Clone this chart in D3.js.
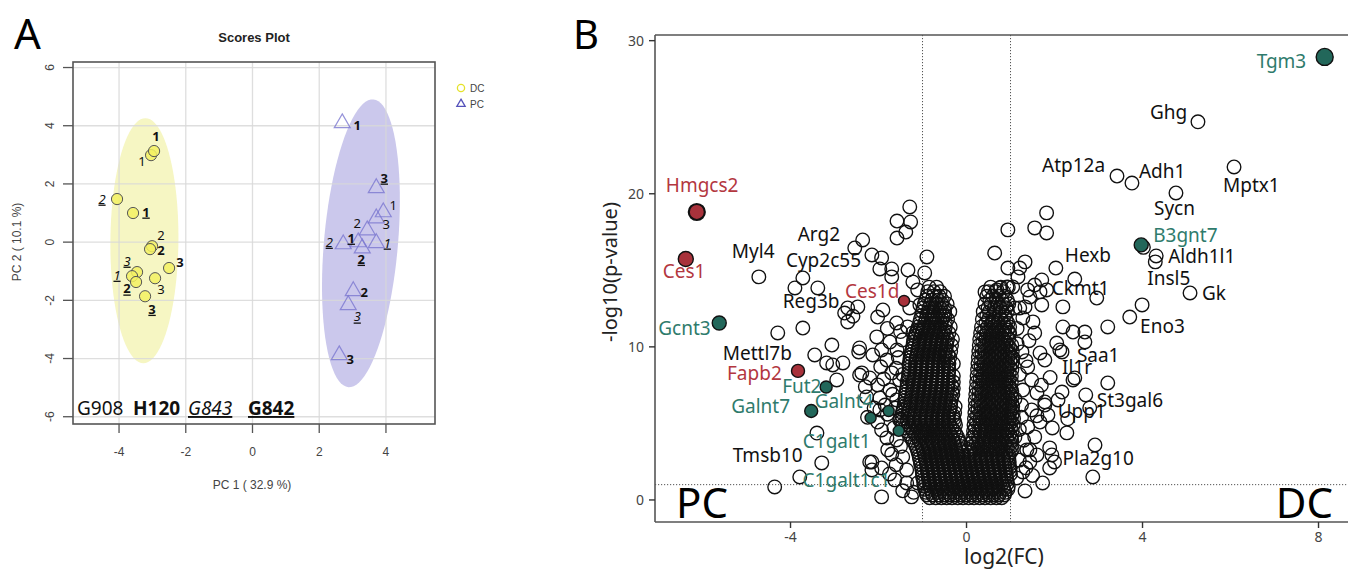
<!DOCTYPE html>
<html>
<head>
<meta charset="utf-8">
<script src="https://cdn.jsdelivr.net/npm/d3@7"></script>
<style>
  body { margin: 0; background: #fff; }
  svg { display: block; }
</style>
</head>
<body>
<svg id="fig" width="1348" height="569"></svg>
<script>
// ---------- panel A: PCA scores ----------
const pcaSamples = ["G908", "H120", "G843", "G842"];
// [PC1, PC2, sample index, replicate]
const dcScores = [
  [-3.04, 2.99, 0, 1], [-2.95, 3.13, 1, 1], [-4.06, 1.48, 2, 2], [-3.58, 1.0, 3, 1],
  [-3.01, -0.14, 0, 2], [-3.07, -0.24, 1, 2], [-2.5, -0.89, 1, 3], [-3.46, -1.03, 2, 3],
  [-3.61, -1.17, 2, 1], [-3.49, -1.37, 3, 2], [-2.92, -1.24, 0, 3], [-3.22, -1.86, 3, 3],
];
const pcScores = [
  [2.69, 4.09, 1, 1], [3.71, 1.86, 3, 3], [3.92, 1.03, 0, 1], [3.71, 0.82, 0, 3],
  [3.44, 0.41, 0, 2], [2.72, -0.07, 2, 2], [3.17, 0.0, 3, 1], [3.71, -0.03, 2, 1],
  [3.29, -0.21, 3, 2], [3.02, -1.68, 1, 2], [2.87, -2.16, 2, 3], [2.6, -3.88, 1, 3],
];
// 95% ellipses: centre, major semi-axis vector, minor semi-axis vector
const dcEllipse = { c: [-3.24, 0.05], u: [0.03, 4.21], v: [1.02, 0] };
const pcEllipse = { c: [3.25, -0.04], u: [0.375, 4.945], v: [1.105, -0.11] };
const pcaXTicks = [-4, -2, 0, 2, 4];
const pcaYTicks = [-6, -4, -2, 0, 2, 4, 6];

// ---------- panel B: volcano ----------
const volXTicks = [-4, 0, 4, 8];
const volYTicks = [0, 10, 20, 30];
const fcCut = [-1, 1];
const pCut = 1;

// dense core, one row per -log10(p) level: [y, [log2FC ...]]
const coreRows = [
  [0.15, [-0.84, -0.7, -0.57, -0.45, -0.33, -0.2, -0.08, 0.05, 0.17, 0.3, 0.42, 0.55, 0.68, 0.8]],
  [0.33, [-0.9, -0.77, -0.63, -0.5, -0.38, -0.26, -0.13, -0.01, 0.12, 0.24, 0.37, 0.5, 0.62, 0.74, 0.86]],
  [0.5, [-0.92, -0.79, -0.66, -0.52, -0.4, -0.27, -0.14, -0.02, 0.11, 0.24, 0.36, 0.49, 0.62, 0.75, 0.88]],
  [0.7, [-0.95, -0.82, -0.69, -0.55, -0.43, -0.3, -0.17, -0.05, 0.08, 0.21, 0.33, 0.46, 0.59, 0.72, 0.85, 0.94]],
  [0.9, [-0.96, -0.83, -0.7, -0.58, -0.44, -0.31, -0.19, -0.06, 0.07, 0.2, 0.33, 0.45, 0.58, 0.71, 0.84, 0.95]],
  [1.1, [-0.97, -0.84, -0.71, -0.58, -0.46, -0.33, -0.2, -0.08, 0.05, 0.18, 0.31, 0.44, 0.56, 0.69, 0.82, 0.93]],
  [1.3, [-0.98, -0.86, -0.72, -0.6, -0.47, -0.35, -0.22, -0.1, 0.03, 0.15, 0.28, 0.41, 0.54, 0.66, 0.79, 0.92]],
  [1.5, [-1.0, -0.87, -0.74, -0.61, -0.48, -0.36, -0.24, -0.11, 0.02, 0.14, 0.27, 0.4, 0.53, 0.66, 0.78, 0.91]],
  [1.7, [-1.0, -0.88, -0.75, -0.62, -0.5, -0.37, -0.25, -0.12, 0.0, 0.13, 0.26, 0.38, 0.51, 0.64, 0.77, 0.9, 1.0]],
  [1.9, [-1.01, -0.89, -0.76, -0.63, -0.51, -0.38, -0.26, -0.14, -0.01, 0.12, 0.25, 0.37, 0.5, 0.63, 0.76, 0.89, 0.99]],
  [2.1, [-1.02, -0.9, -0.77, -0.64, -0.52, -0.39, -0.27, -0.15, -0.03, 0.1, 0.23, 0.36, 0.49, 0.62, 0.75, 0.88, 0.98]],
  [2.3, [-1.04, -0.91, -0.78, -0.66, -0.53, -0.41, -0.28, -0.16, -0.04, 0.09, 0.22, 0.35, 0.48, 0.61, 0.74, 0.87, 0.97]],
  [2.5, [-1.05, -0.92, -0.8, -0.67, -0.54, -0.42, -0.3, -0.18, -0.06, 0.07, 0.2, 0.33, 0.46, 0.59, 0.72, 0.85, 0.97]],
  [2.7, [-1.07, -0.94, -0.81, -0.69, -0.56, -0.44, -0.31, -0.19, -0.07, 0.06, 0.19, 0.32, 0.45, 0.58, 0.71, 0.84, 0.96]],
  [2.9, [-1.08, -0.95, -0.82, -0.7, -0.57, -0.45, -0.33, -0.21, -0.09, 0.05, 0.18, 0.31, 0.44, 0.57, 0.7, 0.83, 0.96]],
  [3.1, [-1.1, -0.97, -0.84, -0.71, -0.59, -0.46, -0.34, -0.22, -0.1, 0.1, 0.23, 0.37, 0.5, 0.63, 0.76, 0.89, 1.0]],
  [3.3, [-1.12, -0.99, -0.86, -0.73, -0.6, -0.48, -0.36, -0.24, -0.12, 0.04, 0.17, 0.3, 0.43, 0.56, 0.69, 0.82, 0.95, 1.04]],
  [3.5, [-1.15, -1.02, -0.88, -0.75, -0.62, -0.5, -0.37, -0.25, -0.13, 0.13, 0.26, 0.39, 0.52, 0.65, 0.78, 0.91, 1.02]],
  [3.7, [-1.18, -1.04, -0.9, -0.77, -0.64, -0.51, -0.39, -0.27, -0.14, 0.1, 0.22, 0.35, 0.48, 0.61, 0.74, 0.87, 1.0]],
  [3.9, [-1.22, -1.08, -0.94, -0.81, -0.68, -0.55, -0.42, -0.3, -0.18, 0.15, 0.28, 0.41, 0.54, 0.67, 0.8, 0.93, 1.03]],
  [4.1, [-1.25, -1.11, -0.98, -0.85, -0.72, -0.59, -0.46, -0.33, -0.2, 0.14, 0.27, 0.4, 0.53, 0.66, 0.79, 0.92, 1.02]],
  [4.3, [-1.3, -1.16, -1.03, -0.9, -0.76, -0.63, -0.5, -0.37, -0.24, 0.19, 0.33, 0.46, 0.6, 0.73, 0.86, 0.98]],
  [4.5, [-1.35, -1.21, -1.07, -0.94, -0.8, -0.67, -0.54, -0.41, -0.28, 0.16, 0.29, 0.42, 0.55, 0.68, 0.81, 0.94, 1.04]],
  [4.7, [-1.4, -1.26, -1.12, -0.99, -0.85, -0.72, -0.59, -0.46, -0.33, 0.2, 0.35, 0.49, 0.62, 0.76, 0.89, 1.0]],
  [4.9, [-1.45, -1.31, -1.17, -1.03, -0.9, -0.76, -0.63, -0.5, -0.37, -0.25, 0.17, 0.3, 0.43, 0.56, 0.7, 0.83, 0.96, 1.06]],
  [5.1, [-1.48, -1.34, -1.2, -1.06, -0.93, -0.79, -0.66, -0.53, -0.4, -0.27, 0.23, 0.37, 0.51, 0.64, 0.78, 0.91, 1.02]],
  [5.3, [-1.5, -1.36, -1.22, -1.08, -0.95, -0.81, -0.68, -0.55, -0.42, -0.29, 0.18, 0.31, 0.45, 0.58, 0.71, 0.84, 0.97, 1.07]],
  [5.5, [-1.47, -1.33, -1.2, -1.06, -0.93, -0.8, -0.66, -0.54, -0.41, -0.3, 0.25, 0.39, 0.52, 0.66, 0.79, 0.92, 1.03]],
  [5.7, [-1.46, -1.32, -1.18, -1.05, -0.92, -0.78, -0.65, -0.52, -0.39, -0.27, 0.19, 0.32, 0.46, 0.59, 0.72, 0.85, 0.98, 1.06]],
  [5.9, [-1.44, -1.3, -1.17, -1.03, -0.9, -0.77, -0.64, -0.51, -0.38, 0.26, 0.4, 0.53, 0.67, 0.8, 0.93, 1.03]],
  [6.1, [-1.42, -1.28, -1.15, -1.02, -0.88, -0.75, -0.62, -0.49, -0.36, -0.26, 0.2, 0.33, 0.47, 0.6, 0.73, 0.86, 0.98, 1.05]],
  [6.3, [-1.41, -1.27, -1.14, -1.01, -0.87, -0.74, -0.61, -0.48, -0.36, 0.27, 0.41, 0.55, 0.68, 0.81, 0.93, 1.03]],
  [6.5, [-1.4, -1.26, -1.13, -1.0, -0.86, -0.73, -0.6, -0.47, -0.35, 0.2, 0.34, 0.48, 0.61, 0.74, 0.87, 0.99]],
  [6.7, [-1.39, -1.25, -1.12, -0.98, -0.85, -0.72, -0.59, -0.46, -0.34, 0.28, 0.42, 0.56, 0.69, 0.82, 0.94, 1.03]],
  [6.9, [-1.38, -1.24, -1.1, -0.97, -0.84, -0.7, -0.57, -0.44, -0.31, 0.21, 0.35, 0.49, 0.62, 0.75, 0.88, 1.0]],
  [7.1, [-1.37, -1.23, -1.09, -0.96, -0.83, -0.69, -0.56, -0.44, -0.33, 0.29, 0.43, 0.57, 0.7, 0.83, 0.95, 1.03]],
  [7.3, [-1.36, -1.22, -1.08, -0.95, -0.82, -0.68, -0.55, -0.42, -0.3, 0.22, 0.36, 0.5, 0.63, 0.76, 0.89, 1.01]],
  [7.5, [-1.35, -1.21, -1.08, -0.95, -0.81, -0.68, -0.55, -0.43, -0.34, 0.3, 0.44, 0.57, 0.7, 0.84, 0.96]],
  [7.7, [-1.35, -1.21, -1.07, -0.94, -0.8, -0.67, -0.54, -0.41, -0.3, 0.23, 0.37, 0.5, 0.64, 0.77, 0.9, 1.02]],
  [7.9, [-1.33, -1.2, -1.06, -0.93, -0.8, -0.67, -0.54, -0.42, 0.31, 0.45, 0.58, 0.71, 0.85, 0.97]],
  [8.1, [-1.32, -1.18, -1.05, -0.92, -0.79, -0.66, -0.53, -0.41, -0.3, 0.24, 0.38, 0.52, 0.65, 0.78, 0.91, 1.02]],
  [8.3, [-1.31, -1.17, -1.04, -0.91, -0.78, -0.65, -0.53, -0.41, 0.32, 0.46, 0.59, 0.72, 0.85, 0.97]],
  [8.5, [-1.3, -1.16, -1.03, -0.9, -0.77, -0.64, -0.52, -0.4, 0.25, 0.39, 0.53, 0.66, 0.79, 0.92, 1.03]],
  [8.7, [-1.3, -1.16, -1.03, -0.9, -0.77, -0.64, -0.52, -0.42, 0.33, 0.47, 0.6, 0.73, 0.86, 0.98]],
  [8.9, [-1.3, -1.16, -1.03, -0.9, -0.77, -0.64, -0.52, -0.4, -0.3, 0.26, 0.4, 0.54, 0.67, 0.8, 0.93, 1.03]],
  [9.1, [-1.29, -1.15, -1.02, -0.89, -0.76, -0.63, -0.51, -0.42, 0.34, 0.48, 0.61, 0.74, 0.87, 0.99]],
  [9.3, [-1.28, -1.14, -1.01, -0.88, -0.75, -0.62, -0.5, -0.38, 0.27, 0.41, 0.55, 0.68, 0.81, 0.94, 1.04]],
  [9.5, [-1.26, -1.12, -0.99, -0.86, -0.73, -0.61, -0.49, -0.42, 0.35, 0.49, 0.62, 0.75, 0.88, 0.99]],
  [9.7, [-1.25, -1.11, -0.98, -0.85, -0.72, -0.6, -0.48, -0.36, 0.28, 0.42, 0.56, 0.69, 0.82, 0.95, 1.04]],
  [9.9, [-1.23, -1.1, -0.96, -0.83, -0.7, -0.58, -0.47, 0.36, 0.5, 0.63, 0.76, 0.89, 0.99]],
  [10.1, [-1.22, -1.08, -0.95, -0.82, -0.69, -0.57, -0.45, -0.34, 0.29, 0.43, 0.57, 0.7, 0.83, 0.95, 1.03]],
  [10.3, [-1.21, -1.07, -0.94, -0.81, -0.68, -0.56, -0.45, 0.37, 0.51, 0.64, 0.77, 0.9]],
  [10.5, [-1.2, -1.06, -0.93, -0.8, -0.67, -0.55, -0.43, -0.32, 0.3, 0.44, 0.58, 0.71, 0.84, 0.96]],
  [10.7, [-1.17, -1.04, -0.91, -0.78, -0.66, -0.54, -0.46, 0.39, 0.53, 0.66, 0.79, 0.91]],
  [10.9, [-1.15, -1.02, -0.89, -0.76, -0.64, -0.52, -0.4, 0.32, 0.46, 0.6, 0.73, 0.86, 0.97]],
  [11.1, [-1.12, -0.99, -0.87, -0.74, -0.62, -0.5, 0.41, 0.55, 0.68, 0.81, 0.93]],
  [11.3, [-1.1, -0.97, -0.85, -0.72, -0.6, -0.48, -0.37, 0.34, 0.48, 0.62, 0.75, 0.88, 0.98]],
  [11.55, [-1.07, -0.95, -0.82, -0.7, -0.58, -0.48, 0.44, 0.57, 0.71, 0.84, 0.94]],
  [11.8, [-1.05, -0.92, -0.8, -0.67, -0.55, -0.43, 0.36, 0.5, 0.64, 0.78, 0.9]],
  [12.05, [-1.02, -0.9, -0.77, -0.65, -0.53, 0.46, 0.6, 0.74, 0.87]],
  [12.3, [-1.0, -0.87, -0.75, -0.62, -0.5, -0.38, 0.38, 0.52, 0.66, 0.8, 0.93]],
  [12.55, [-0.98, -0.85, -0.72, -0.6, -0.5, 0.49, 0.63, 0.77, 0.9]],
  [12.8, [-0.96, -0.82, -0.69, -0.56, -0.44, 0.42, 0.56, 0.7, 0.84, 0.96]],
  [13.05, [-0.93, -0.79, -0.66, -0.55, 0.53, 0.67, 0.81, 0.93]],
  [13.3, [-0.9, -0.76, -0.62, -0.5, 0.46, 0.6, 0.74, 0.88]],
  [13.6, [-0.88, -0.74, -0.6, 0.5, 0.66, 0.84]],
  [13.9, [-0.85, -0.68, 0.55, 0.78, 0.95]],
];

// scattered genes outside the core: [log2FC, -log10(p)]
const sparseGenes = [
  [-1.29, 19.14], [-1.58, 18.22], [-1.27, 18.16], [-1.38, 17.5], [-1.58, 17.11], [-2.54, 16.46],
  [-1.93, 15.81], [-1.97, 15.09], [-1.7, 15.09], [-1.33, 15.02], [-0.9, 15.87], [-0.95, 14.83],
  [-1.7, 14.57], [-3.72, 14.5], [-3.38, 13.85], [-3.9, 13.85], [-1.22, 14.24], [-1.11, 13.72],
  [-0.68, 13.26], [-2.47, 12.61], [-2.7, 11.63], [-2.77, 12.21], [-2.58, 12.0], [-1.9, 12.41],
  [-2.02, 11.95], [-1.29, 12.54], [-1.06, 12.74], [-0.84, 12.28], [-1.59, 11.56], [-1.34, 11.3],
  [-1.06, 11.1], [-0.72, 11.89], [-0.49, 12.08], [-2.04, 10.65], [-1.74, 10.32], [-1.45, 10.45],
  [-1.22, 10.91], [-2.43, 9.93], [-3.72, 11.23], [-3.45, 9.47], [-3.18, 8.95], [-2.95, 7.84],
  [-2.43, 8.16], [-3.06, 10.12], [-2.45, 9.67], [-2.13, 9.47], [-3.04, 8.82], [-2.81, 8.95],
  [-2.38, 8.3], [-2.2, 7.97], [-2.27, 6.73], [-2.02, 7.51], [-1.97, 6.66], [-1.97, 5.88],
  [-2.02, 5.09], [-1.93, 4.57], [-1.81, 4.05], [-1.79, 3.27], [-2.15, 2.48], [-1.93, 2.09],
  [-1.63, 1.31], [-1.36, 1.11], [-1.11, 1.11], [-1.93, 0.2], [-1.81, 9.14], [-1.93, 9.8],
  [-1.58, 9.8], [-1.7, 8.3], [-1.52, 7.84], [-1.74, 7.18], [-1.59, 6.53], [-1.52, 5.23],
  [-1.59, 3.92], [-1.45, 2.81], [-1.36, 1.96], [-3.4, 4.37], [-3.79, 1.5], [-4.36, 0.85],
  [-2.2, 2.48], [-2.15, 1.96], [-1.65, 4.7], [-1.8, 5.6], [-1.62, 6.0], [-1.85, 6.2],
  [-1.68, 6.9], [-1.88, 7.9], [-1.6, 8.6], [-1.45, 8.2], [-1.55, 9.3], [-1.5, 11.0],
  [-1.8, 11.2], [-1.95, 8.7], [-2.3, 7.4], [-2.1, 6.0], [-2.25, 5.4], [-1.7, 3.0], [-1.6, 2.3],
  [-1.5, 3.5], [-1.75, 1.7], [-1.45, 0.6], [-1.2, 0.5], [-1.25, 0.2],
  [1.82, 18.75], [1.55, 17.77], [1.82, 17.44], [0.94, 17.64], [0.64, 16.13], [1.33, 15.55],
  [0.94, 15.15], [1.21, 15.15], [2.46, 14.43], [2.19, 12.61], [0.42, 13.59], [0.69, 13.72],
  [1.71, 14.37], [1.55, 14.04], [1.82, 13.72], [1.17, 14.57], [0.92, 13.91], [1.44, 13.26],
  [1.71, 12.74], [1.21, 12.54], [1.51, 11.63], [2.19, 11.3], [2.42, 10.97], [2.69, 10.97],
  [2.05, 10.25], [3.21, 11.3], [3.71, 11.95], [2.42, 7.84], [3.21, 7.64], [2.17, 7.05],
  [2.08, 6.53], [1.78, 6.2], [1.85, 5.55], [2.28, 4.38], [2.92, 3.59], [1.89, 3.4],
  [1.94, 2.94], [1.89, 2.09], [1.6, 2.94], [1.44, 3.27], [2.87, 1.5], [1.73, 1.11], [1.33, 0.59],
  [1.26, 9.67], [1.67, 9.6], [1.39, 8.69], [1.78, 9.14], [1.48, 7.84], [1.28, 7.18], [1.6, 6.99],
  [1.78, 6.4], [1.48, 5.88], [1.67, 5.09], [1.39, 4.77], [1.55, 4.12], [1.37, 3.27], [1.44, 2.48],
  [1.28, 1.83], [1.14, 1.44], [2.12, 9.8], [2.46, 7.97], [0.76, 13.85], [1.05, 13.91],
  [1.39, 13.72], [1.67, 13.59], [1.33, 12.61], [0.76, 12.6], [0.6, 11.63], [1.1, 12.54],
  [1.28, 11.89], [1.55, 10.9], [0.98, 10.9], [1.15, 10.2], [1.2, 8.2], [1.1, 6.6], [1.25, 5.4],
  [1.1, 4.1], [1.2, 2.6], [1.05, 9.3], [1.15, 11.2], [4.02, 16.5], [1.25, 6.2], [1.35, 9.1],
  [1.42, 10.4], [1.2, 4.6], [1.3, 3.9], [1.35, 2.1], [1.5, 1.6], [1.6, 5.5], [1.7, 7.5],
  [1.9, 8.0], [1.95, 4.7], [2.3, 5.3],
];

// named genes (open circles)
const namedGenes = ["Ghg", "Atp12a", "Adh1", "Mptx1", "Sycn", "Aldh1l1", "Insl5", "Gk", "Eno3",
  "Hexb", "Ckmt1", "Saa1", "Il1r", "St3gal6", "Upp1", "Pla2g10", "Myl4", "Arg2", "Cyp2c55",
  "Reg3b", "Mettl7b", "Tmsb10"];
const namedFC = [5.26, 3.42, 3.76, 6.08, 4.76, 4.31, 4.29, 5.08, 3.99, 2.03, 2.96, 2.69, 2.17,
  2.71, 2.8, 2.0, -4.72, -2.36, -2.15, -2.7, -4.29, -3.29];
const namedP = [24.7, 21.16, 20.7, 21.75, 20.05, 15.94, 15.55, 13.52, 12.74, 15.15, 13.19, 10.32,
  9.67, 6.86, 6.01, 2.48, 14.57, 16.98, 16.0, 12.54, 10.91, 2.42];

// highlighted genes (filled)
const hlGenes = ["Tgm3", "B3gnt7", "Gcnt3", "Fut2", "Galnt7", "Galnt4", "C1galt1", "C1galt1c1",
  "Hmgcs2", "Ces1", "Ces1d", "Fapb2"];
const hlFC = [8.14, 3.97, -5.62, -3.19, -3.53, -1.77, -1.54, -2.18, -6.13, -6.38, -1.42, -3.83];
const hlP = [28.94, 16.66, 11.56, 7.38, 5.81, 5.81, 4.51, 5.36, 18.81, 15.74, 13.0, 8.43];
const hlClass = ["glyco", "glyco", "glyco", "glyco", "glyco", "glyco", "glyco", "glyco",
  "lipid", "lipid", "lipid", "lipid"];

// ---------- layout / style ----------
const svg = d3.select("#fig");
const sans = "'Liberation Sans', Arial, sans-serif";
const noto = "'Noto Sans', 'Open Sans', sans-serif";
const classColor = { glyco: "#22675a", lipid: "#a8323b" };
const classText = { glyco: "#2f7b6c", lipid: "#b3373f" };

const sampleStyle = [
  { weight: "normal", style: "normal", under: false },
  { weight: "bold", style: "normal", under: false },
  { weight: "normal", style: "italic", under: true },
  { weight: "bold", style: "normal", under: true },
];
const dcLabelOff = [[-9, 6], [2, -15], [-15, 0], [13, -1], [9, -11], [11, 1], [11, -6], [-10, -11],
  [-15, -1], [-9, 7], [6, 11], [7, 13]];
const pcLabelOff = [[15, 2], [8, -10], [10, -7], [10, 6], [-10, -7], [-14, -2], [-7, -4], [11, 0],
  [-1, 11], [11, 1], [9, 12], [11, 4]];

// label start dx / baseline dy from the point, in px
const namedLabelOff = {
  Ghg: [-48, -3], Atp12a: [-75, -4], Adh1: [7, -5], Mptx1: [-11, 25], Sycn: [-22, 22],
  Aldh1l1: [12, 7], Insl5: [-8, 23], Gk: [12, 7], Eno3: [-2, 28], Hexb: [9, -6], Ckmt1: [-45, -3],
  Saa1: [-8, 20], Il1r: [0, 22], St3gal6: [11, 12], Upp1: [-32, 10], Pla2g10: [8, 3],
  Myl4: [-27, -19], Arg2: [-65, 1], Cyp2c55: [-86, 12], Reg3b: [-65, 0], Mettl7b: [-55, 27],
  Tmsb10: [-89, -1],
};
const hlLabelOff = {
  Tgm3: [-68, 11], B3gnt7: [12, -3], Gcnt3: [-61, 12], Fut2: [-44, 6], Galnt7: [-80, 2],
  Galnt4: [-74, -3], C1galt1: [-96, 17], C1galt1c1: [-68, 69], Hmgcs2: [-31, -20],
  Ces1: [-23, 19], Ces1d: [-59, -3], Fapb2: [-71, 9],
};
const hlRadius = { Tgm3: 8.5, Hmgcs2: 8, Ces1: 7.5, Gcnt3: 7, B3gnt7: 7, Fapb2: 6.5, Galnt7: 6.5,
  Fut2: 6, Ces1d: 5.5, Galnt4: 5.5, C1galt1: 5.5, C1galt1c1: 5.5 };

// ================= panel A =================
const xA = d3.scaleLinear().domain([-5.38, 5.47]).range([73, 435]);
const yA = d3.scaleLinear().domain([-6.25, 6.19]).range([424, 62]);
const gA = svg.append("g");

function ellipsePoints(e) {
  return d3.range(0, 361, 4).map((deg) => {
    const t = (deg * Math.PI) / 180;
    return [
      e.c[0] + e.u[0] * Math.cos(t) + e.v[0] * Math.sin(t),
      e.c[1] + e.u[1] * Math.cos(t) + e.v[1] * Math.sin(t),
    ];
  });
}
const ellLine = d3.line().x((d) => xA(d[0])).y((d) => yA(d[1])).curve(d3.curveLinearClosed);

gA.append("path").attr("d", ellLine(ellipsePoints(dcEllipse))).attr("fill", "#f6f6c3");
gA.append("path").attr("d", ellLine(ellipsePoints(pcEllipse))).attr("fill", "#cbc8ec");

// grid
gA.selectAll("line.gx").data(pcaXTicks).join("line")
  .attr("x1", (d) => xA(d)).attr("x2", (d) => xA(d))
  .attr("y1", yA.range()[0]).attr("y2", yA.range()[1])
  .attr("stroke", "#d9d9d9").attr("stroke-width", 1.3).attr("opacity", 0.85);
gA.selectAll("line.gy").data(pcaYTicks).join("line")
  .attr("y1", (d) => yA(d)).attr("y2", (d) => yA(d))
  .attr("x1", xA.range()[0]).attr("x2", xA.range()[1])
  .attr("stroke", "#d9d9d9").attr("stroke-width", 1.3).attr("opacity", 0.85);

// box + ticks
gA.append("rect").attr("x", 73).attr("y", 62).attr("width", 362).attr("height", 362)
  .attr("fill", "none").attr("stroke", "#555").attr("stroke-width", 1.6);
gA.selectAll("line.tx").data(pcaXTicks).join("line")
  .attr("x1", (d) => xA(d)).attr("x2", (d) => xA(d)).attr("y1", 424).attr("y2", 433)
  .attr("stroke", "#555").attr("stroke-width", 1.3);
gA.selectAll("line.ty").data(pcaYTicks).join("line")
  .attr("y1", (d) => yA(d)).attr("y2", (d) => yA(d)).attr("x1", 63).attr("x2", 73)
  .attr("stroke", "#555").attr("stroke-width", 1.3);
gA.selectAll("text.tx").data(pcaXTicks).join("text")
  .attr("x", (d) => xA(d)).attr("y", 456).attr("text-anchor", "middle")
  .attr("font-family", sans).attr("font-size", 12).attr("fill", "#444").text((d) => d);
gA.selectAll("text.ty").data(pcaYTicks).join("text")
  .attr("transform", (d) => `translate(54,${yA(d)}) rotate(-90)`).attr("text-anchor", "middle")
  .attr("font-family", sans).attr("font-size", 12).attr("fill", "#444").text((d) => d);

gA.append("text").attr("x", 254).attr("y", 42).attr("text-anchor", "middle")
  .attr("font-family", sans).attr("font-size", 13).attr("font-weight", "bold").attr("fill", "#222")
  .text("Scores Plot");
gA.append("text").attr("x", 252).attr("y", 489).attr("text-anchor", "middle")
  .attr("font-family", sans).attr("font-size", 12).attr("fill", "#444").text("PC 1 ( 32.9 %)");
gA.append("text").attr("transform", "translate(21,242) rotate(-90)").attr("text-anchor", "middle")
  .attr("font-family", sans).attr("font-size", 12).attr("fill", "#444").text("PC 2 ( 10.1 %)");

// points
gA.selectAll("path.pc").data(pcScores).join("path")
  .attr("d", d3.symbol(d3.symbolTriangle, 110))
  .attr("transform", (d) => `translate(${xA(d[0])},${yA(d[1])})`)
  .attr("fill", "none").attr("stroke", "#7b77cf").attr("stroke-opacity", 0.8).attr("stroke-width", 1.2);
gA.selectAll("circle.dc").data(dcScores).join("circle")
  .attr("cx", (d) => xA(d[0])).attr("cy", (d) => yA(d[1])).attr("r", 5.6)
  .attr("fill", "#f3f163").attr("fill-opacity", 0.85)
  .attr("stroke", "#555").attr("stroke-width", 1);

function repLabels(data, offs) {
  gA.append("g").selectAll("text").data(data).join("text")
    .attr("x", (d, i) => xA(d[0]) + offs[i][0]).attr("y", (d, i) => yA(d[1]) + offs[i][1] + 4.5)
    .attr("text-anchor", "middle").attr("font-family", noto).attr("font-size", 13).attr("fill", "#111")
    .attr("font-weight", (d) => sampleStyle[d[2]].weight)
    .attr("font-style", (d) => sampleStyle[d[2]].style)
    .attr("text-decoration", (d) => (sampleStyle[d[2]].under ? "underline" : "none"))
    .text((d) => d[3]);
}
repLabels(dcScores, dcLabelOff);
repLabels(pcScores, pcLabelOff);

// sample key at bottom of plot
const keyX = [77, 133, 188, 248];
gA.selectAll("text.key").data(pcaSamples).join("text")
  .attr("x", (d, i) => keyX[i]).attr("y", 415)
  .attr("font-family", noto).attr("font-size", 19).attr("fill", "#111")
  .attr("font-weight", (d, i) => sampleStyle[i].weight)
  .attr("font-style", (d, i) => sampleStyle[i].style)
  .attr("text-decoration", (d, i) => (sampleStyle[i].under ? "underline" : "none"))
  .text((d) => d);

// legend
gA.append("circle").attr("cx", 461).attr("cy", 88).attr("r", 3.6)
  .attr("fill", "none").attr("stroke", "#e5e22a").attr("stroke-width", 1.3);
gA.append("path").attr("d", d3.symbol(d3.symbolTriangle, 30))
  .attr("transform", "translate(461,104)").attr("fill", "none").attr("stroke", "#5552bb").attr("stroke-width", 1.3);
gA.append("text").attr("x", 470).attr("y", 92).attr("font-family", sans).attr("font-size", 10).attr("fill", "#444").text("DC");
gA.append("text").attr("x", 470).attr("y", 108).attr("font-family", sans).attr("font-size", 10).attr("fill", "#444").text("PC");

svg.append("text").attr("x", 14).attr("y", 49).attr("font-family", noto).attr("font-size", 42).attr("fill", "#000").text("A");

// ================= panel B =================
const xB = d3.scaleLinear().domain([-7.08, 8.67]).range([655, 1348]);
const yB = d3.scaleLinear().domain([-1.44, 30.37]).range([522, 35]);
const gB = svg.append("g");

// threshold lines
gB.selectAll("line.vc").data(fcCut).join("line")
  .attr("x1", (d) => xB(d)).attr("x2", (d) => xB(d)).attr("y1", 35).attr("y2", 522)
  .attr("stroke", "#555").attr("stroke-width", 1).attr("stroke-dasharray", "1.2,1.8");
gB.append("line").attr("x1", 655).attr("x2", 1348).attr("y1", yB(pCut)).attr("y2", yB(pCut))
  .attr("stroke", "#555").attr("stroke-width", 1).attr("stroke-dasharray", "1.2,1.8");

const corePts = coreRows.flatMap(([y, xs]) => xs.map((x) => [x, y]));
const openPts = corePts.concat(sparseGenes, namedFC.map((x, i) => [x, namedP[i]]));

gB.append("g").selectAll("circle").data(openPts).join("circle")
  .attr("cx", (d) => xB(d[0])).attr("cy", (d) => yB(d[1])).attr("r", 6.8)
  .attr("fill", "none").attr("stroke", "#111").attr("stroke-width", 1.35);

gB.append("g").selectAll("circle").data(hlGenes).join("circle")
  .attr("cx", (d, i) => xB(hlFC[i])).attr("cy", (d, i) => yB(hlP[i]))
  .attr("r", (d) => hlRadius[d])
  .attr("fill", (d, i) => classColor[hlClass[i]])
  .attr("stroke", "#111").attr("stroke-width", (d) => (d === "Hmgcs2" ? 2.2 : 1.4));

// axes
gB.append("line").attr("x1", 655).attr("x2", 655).attr("y1", 35).attr("y2", 522).attr("stroke", "#555").attr("stroke-width", 1.6);
gB.append("line").attr("x1", 655).attr("x2", 1348).attr("y1", 522).attr("y2", 522).attr("stroke", "#555").attr("stroke-width", 1.6);
gB.append("line").attr("x1", 655).attr("x2", 1348).attr("y1", 35).attr("y2", 35).attr("stroke", "#555").attr("stroke-width", 1.6);

gB.selectAll("line.ty").data(volYTicks).join("line")
  .attr("x1", 649).attr("x2", 655).attr("y1", (d) => yB(d)).attr("y2", (d) => yB(d))
  .attr("stroke", "#333").attr("stroke-width", 1.4);
gB.selectAll("text.ty").data(volYTicks).join("text")
  .attr("x", 644).attr("y", (d) => yB(d) + 5).attr("text-anchor", "end")
  .attr("font-family", noto).attr("font-size", 14).attr("fill", "#444").text((d) => d);
gB.selectAll("line.tx").data(volXTicks).join("line")
  .attr("x1", (d) => xB(d)).attr("x2", (d) => xB(d)).attr("y1", 522).attr("y2", 528)
  .attr("stroke", "#333").attr("stroke-width", 1.4);
gB.selectAll("text.tx").data(volXTicks).join("text")
  .attr("x", (d) => xB(d)).attr("y", 542).attr("text-anchor", "middle")
  .attr("font-family", noto).attr("font-size", 14).attr("fill", "#444").text((d) => d);

gB.append("text").attr("x", 1004).attr("y", 564).attr("text-anchor", "middle")
  .attr("font-family", noto).attr("font-size", 21).attr("fill", "#222").text("log2(FC)");
gB.append("text").attr("transform", "translate(617,272) rotate(-90)").attr("text-anchor", "middle")
  .attr("font-family", noto).attr("font-size", 20).attr("fill", "#222").text("-log10(p-value)");

// gene labels
gB.append("g").selectAll("text").data(namedGenes).join("text")
  .attr("x", (d, i) => xB(namedFC[i]) + namedLabelOff[d][0])
  .attr("y", (d, i) => yB(namedP[i]) + namedLabelOff[d][1])
  .attr("font-family", noto).attr("font-size", 19).attr("fill", "#111").text((d) => d);
gB.append("g").selectAll("text").data(hlGenes).join("text")
  .attr("x", (d, i) => xB(hlFC[i]) + hlLabelOff[d][0])
  .attr("y", (d, i) => yB(hlP[i]) + hlLabelOff[d][1])
  .attr("font-family", noto).attr("font-size", 19)
  .attr("fill", (d, i) => classText[hlClass[i]]).text((d) => d);

gB.append("text").attr("x", 676).attr("y", 518).attr("font-family", noto).attr("font-size", 42).attr("fill", "#000").text("PC");
gB.append("text").attr("x", 1333).attr("y", 518).attr("text-anchor", "end").attr("font-family", noto).attr("font-size", 42).attr("fill", "#000").text("DC");

svg.append("text").attr("x", 573).attr("y", 49).attr("font-family", noto).attr("font-size", 40).attr("fill", "#000").text("B");
</script>
</body>
</html>
